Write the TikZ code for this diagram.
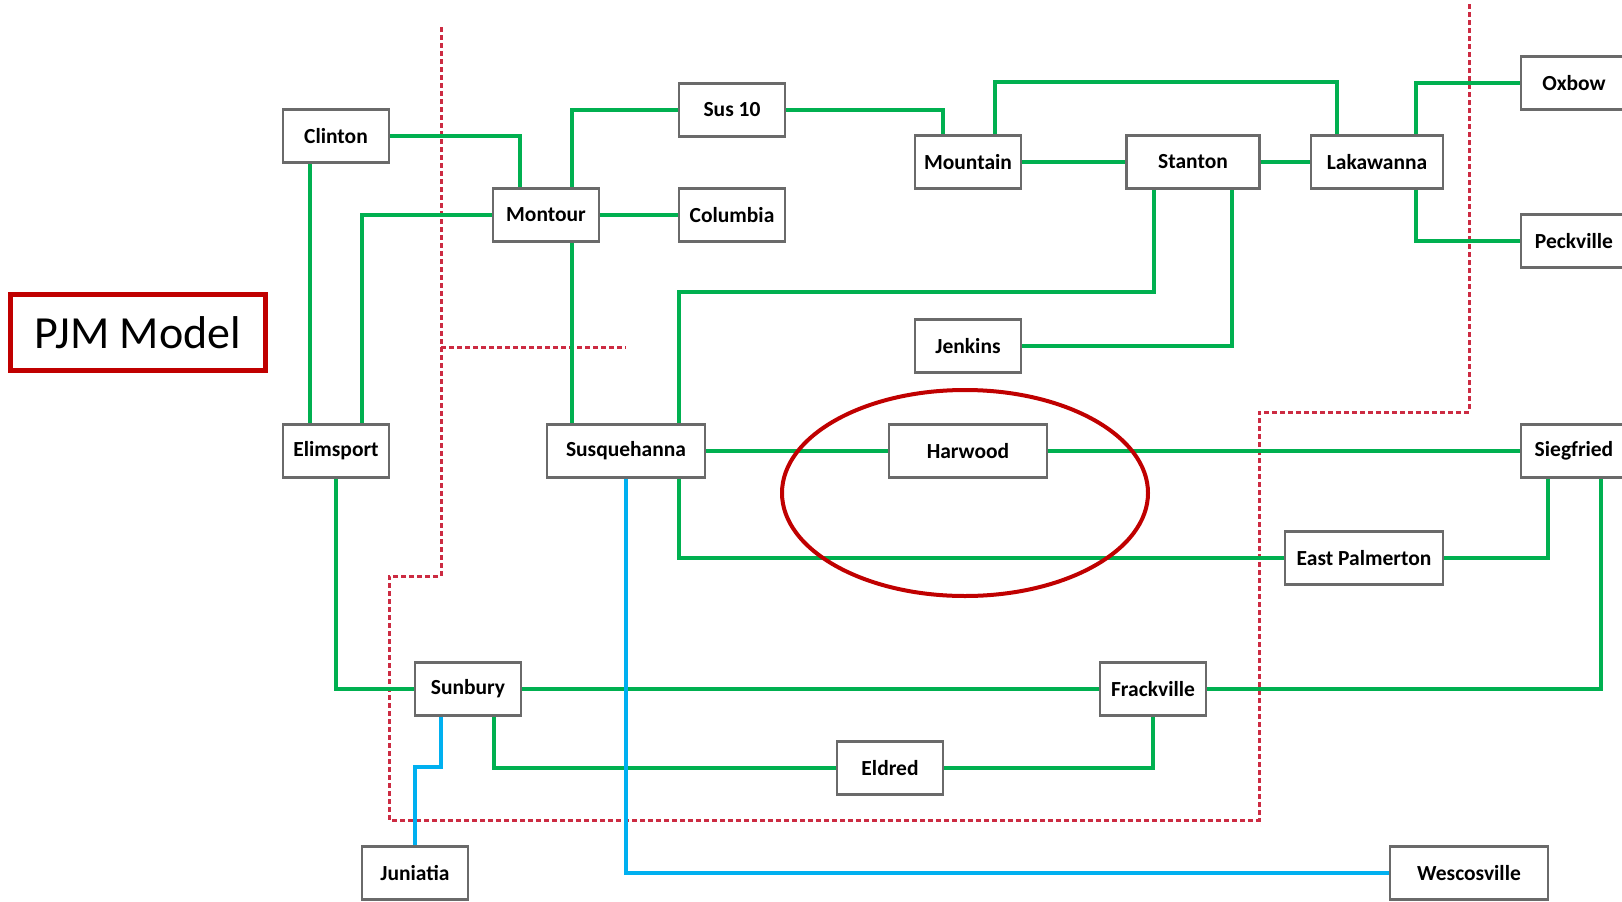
\documentclass[tikz,border=0pt]{standalone}
\usepackage{fontspec}
\setmainfont{Carlito}
\definecolor{boxgray}{HTML}{6A6A6A}
\definecolor{lgreen}{HTML}{00B050}
\definecolor{lblue}{HTML}{00B0F0}
\definecolor{pjmred}{HTML}{C00000}
\definecolor{dred}{HTML}{CC2B42}
\begin{document}
\begin{tikzpicture}[x=1pt,y=-1pt,
  box/.style={draw=boxgray, line width=2.8pt, fill=white, minimum height=53pt, minimum width=106pt, inner sep=0pt, font=\fontsize{21.5}{25}\selectfont\bfseries},
  wide/.style={minimum width=158pt},
  gline/.style={draw=lgreen, line width=3.4pt},
  bline/.style={draw=lblue, line width=3.6pt},
  bound/.style={draw=dred, line width=3pt, dash pattern=on 5pt off 3pt}]
\useasboundingbox[fill=white] (0,0) rectangle (1622,902);

% boundary
\draw[bound] (441,27) -- (441,576) -- (389,576) -- (389,820) -- (1259,820) -- (1259,412) -- (1469,412) -- (1469,4);
\draw[bound] (441,347) -- (626,347);

% title
\node[draw=pjmred, line width=5pt, minimum width=255pt, minimum height=76pt, inner sep=0pt, font=\fontsize{46}{52}\selectfont] (pjm) at (138,332.5) {PJM Model};

% nodes
\node[box] (clinton) at (336,136) {Clinton};
\node[box] (sus10) at (732,110) {Sus 10};
\node[box] (montour) at (546,215) {Montour};
\node[box] (columbia) at (732,215) {Columbia};
\node[box] (mountain) at (968,162) {Mountain};
\node[box, minimum width=133pt] (stanton) at (1193,162) {Stanton};
\node[box, minimum width=132pt] (lakawanna) at (1377,162) {Lakawanna};
\node[box] (oxbow) at (1574,83) {Oxbow};
\node[box] (peckville) at (1574,241) {Peckville};
\node[box] (jenkins) at (968,346) {Jenkins};
\node[box] (elimsport) at (336,451) {Elimsport};
\node[box, wide] (susquehanna) at (626,451) {Susquehanna};
\node[box, wide] (harwood) at (968,451) {Harwood};
\node[box] (siegfried) at (1574,451) {Siegfried};
\node[box, wide] (eastpalmerton) at (1364,558) {East Palmerton};
\node[box] (sunbury) at (468,689) {Sunbury};
\node[box] (frackville) at (1153,689) {Frackville};
\node[box] (eldred) at (890,768) {Eldred};
\node[box] (juniatia) at (415,873) {Juniatia};
\node[box, wide] (wescosville) at (1469,873) {Wescosville};

% green connectors
\draw[gline] (clinton.east) -| ([xshift=-26pt]montour.north);
\draw[gline] ([xshift=-26pt]clinton.south) -- ([xshift=-26pt]elimsport.north);
\draw[gline] (montour.west) -| ([xshift=26pt]elimsport.north);
\draw[gline] ([xshift=26pt]montour.north) |- (sus10.west);
\draw[gline] (montour.east) -- (columbia.west);
\draw[gline] ([xshift=26pt]montour.south) -- ([xshift=-54pt]susquehanna.north);
\draw[gline] (sus10.east) -| ([xshift=-25pt]mountain.north);
\draw[gline] ([xshift=27pt]mountain.north) |- ([xshift=-40pt,yshift=52pt]lakawanna.north) -- ([xshift=-40pt]lakawanna.north);
\draw[gline] (mountain.east) -- (stanton.west);
\draw[gline] (stanton.east) -- (lakawanna.west);
\draw[gline] ([xshift=39pt]lakawanna.north) |- (oxbow.west);
\draw[gline] ([xshift=39pt]lakawanna.south) |- (peckville.west);
\draw[gline] ([xshift=-39pt]stanton.south) |- ([xshift=53pt,yshift=131pt]susquehanna.north) -- ([xshift=53pt]susquehanna.north);
\draw[gline] ([xshift=39pt]stanton.south) |- (jenkins.east);
\draw[gline] (susquehanna.east) -- (harwood.west);
\draw[gline] (harwood.east) -- (siegfried.west);
\draw[gline] ([xshift=53pt]susquehanna.south) |- (eastpalmerton.west);
\draw[gline] ([xshift=-26pt]siegfried.south) |- (eastpalmerton.east);
\draw[gline] ([xshift=27pt]siegfried.south) |- (frackville.east);
\draw[gline] (elimsport.south) |- (sunbury.west);
\draw[gline] (sunbury.east) -- (frackville.west);
\draw[gline] ([xshift=26pt]sunbury.south) |- (eldred.west);
\draw[gline] (eldred.east) -| (frackville.south);

% blue connectors
\draw[bline] ([xshift=-27pt]sunbury.south) |- ([yshift=78pt]juniatia.north) -- (juniatia.north);
\draw[bline] (susquehanna.south) |- (wescosville.west);

% highlight
\draw[draw=pjmred, line width=4pt] (965,493) ellipse [x radius=183, y radius=103];
\end{tikzpicture}
\end{document}
